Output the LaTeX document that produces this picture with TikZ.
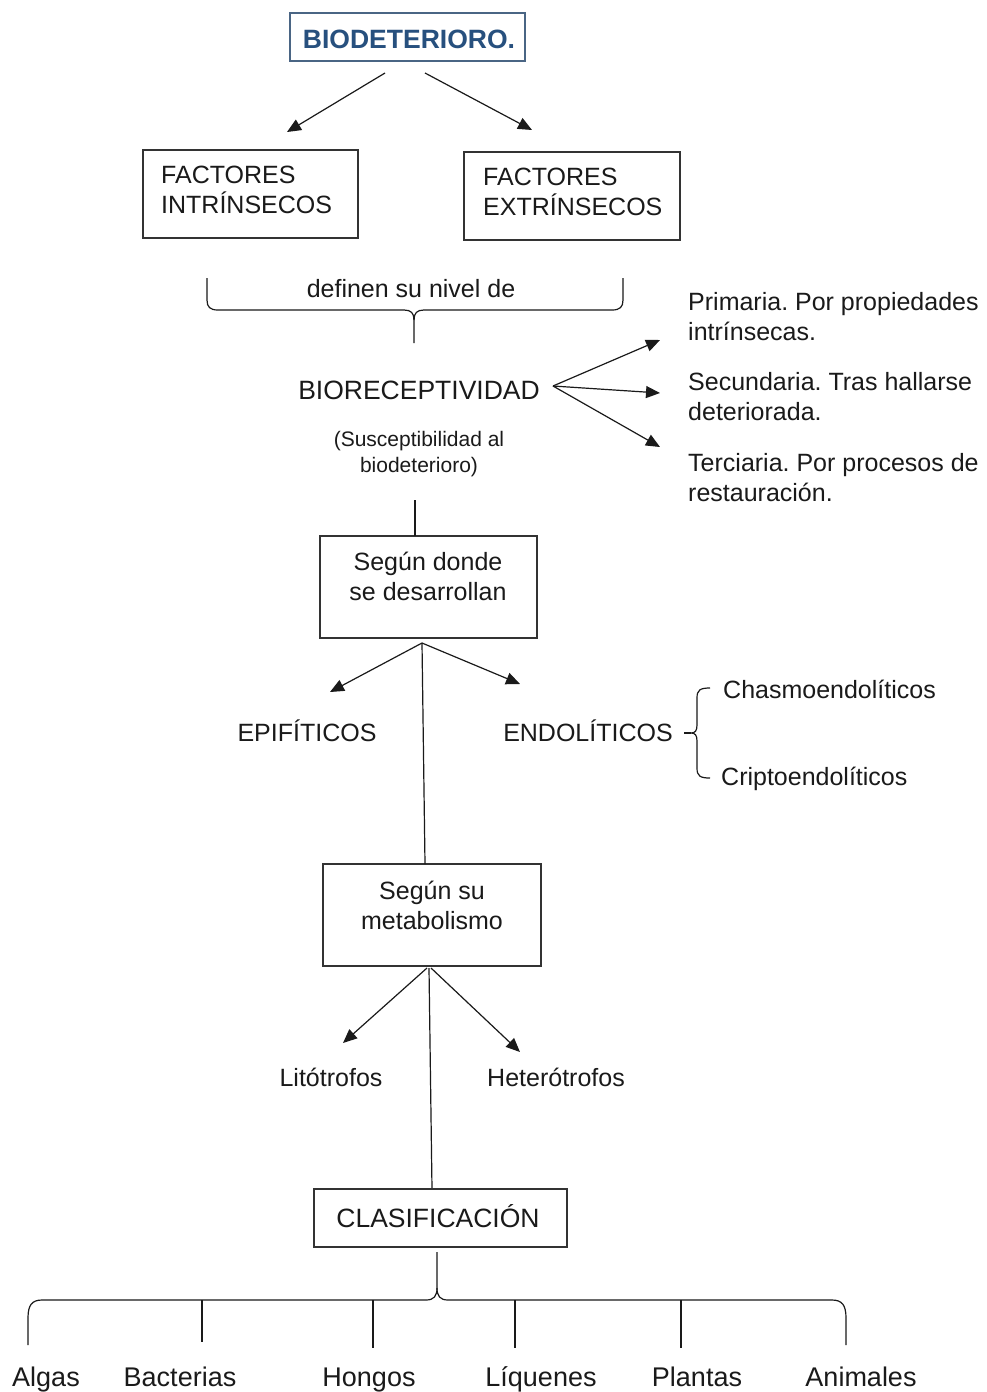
\documentclass[tikz,border=0pt]{standalone}
\usepackage{fontspec}
\setmainfont{Liberation Sans}
\frenchspacing
\usetikzlibrary{arrows.meta}
\definecolor{titleblue}{HTML}{27507E}
\definecolor{titleframe}{HTML}{4A6584}
\definecolor{framegray}{HTML}{333333}
\definecolor{inkgray}{HTML}{1A1A1A}
\begin{document}
\begin{tikzpicture}[x=1pt,y=-1pt,
  box/.style={draw=framegray, line width=1.5pt, inner sep=0pt},
  txt/.style={inner sep=0pt, text=inkgray, font=\fontsize{25}{30}\selectfont},
  big/.style={txt, font=\fontsize{26.5}{31}\selectfont},
  small/.style={txt, font=\fontsize{21}{26}\selectfont, align=center},
  bottom/.style={txt, font=\fontsize{27}{32}\selectfont, anchor=base},
  conn/.style={draw=inkgray, line width=1.2pt},
  arr/.style={conn, -{Triangle[length=14pt,width=12pt]}}
]
\useasboundingbox (0,0) rectangle (987,1392);
\fill[white] (0,0) rectangle (987,1392);

% ---------- top ----------
\node[draw=titleframe, line width=1.5pt, minimum width=235pt, minimum height=48pt, inner sep=0pt] (bio) at (407.5,37) {};
\node[big, font=\fontsize{26.5}{31}\selectfont\bfseries, text=titleblue] (biot) at (409,39) {BIODETERIORO.};

\node[box, minimum width=215pt, minimum height=88pt] (fi) at (250.5,194) {};
\node[txt, align=left, anchor=west] (fit) at (161,190) {FACTORES\\INTRÍNSECOS};
\node[box, minimum width=216pt, minimum height=88pt] (fe) at (572,196) {};
\node[txt, align=left, anchor=west] (fet) at (483,192) {FACTORES\\EXTRÍNSECOS};

\coordinate (a1s) at (385,73);  \coordinate (a1e) at (287,132);
\coordinate (a2s) at (425,73);  \coordinate (a2e) at (532,130);
\draw[arr] (a1s) -- (a1e);
\draw[arr] (a2s) -- (a2e);

% ---------- brace ----------
\node[txt] (def) at (411,289) {definen su nivel de};
\coordinate (bl) at (207,278); \coordinate (br) at (623,278); \coordinate (bt) at (414,343);
\draw[conn] (bl) -- (207,300) .. controls (207,307) and (210,310) .. (218,310) -- (404,310)
  .. controls (411,310) and (414,313) .. (414,320) -- (bt);
\draw[conn] (br) -- (623,300) .. controls (623,307) and (620,310) .. (612,310) -- (424,310)
  .. controls (417,310) and (414,313) .. (414,320);

% ---------- bioreceptividad ----------
\node[big] (brc) at (419,390) {BIORECEPTIVIDAD};
\node[small] (sus) at (419,454) {(Susceptibilidad al\\biodeterioro)};
\coordinate (fan) at (553,386);
\coordinate (p1) at (660,340); \coordinate (p2) at (660,393); \coordinate (p3) at (660,447);
\draw[arr] (fan) -- (p1);
\draw[arr] (fan) -- (p2);
\draw[arr] (fan) -- (p3);
\node[txt, align=left, anchor=west] (prim) at (688,317) {Primaria. Por propiedades\\intrínsecas.};
\node[txt, align=left, anchor=west] (sec) at (688,397) {Secundaria. Tras hallarse\\deteriorada.};
\node[txt, align=left, anchor=west] (ter) at (688,478) {Terciaria. Por procesos de\\restauración.};

% ---------- según donde ----------
\node[box, minimum width=217pt, minimum height=102pt] (sd) at (428.5,587) {};
\node[txt, align=center] (sdt) at (428,576) {Según donde\\se desarrollan};
\coordinate (l1s) at (415,500);
\draw[conn] (l1s) -- (415,536);

\coordinate (sdb) at (422,643);
\coordinate (ep) at (330,692); \coordinate (en) at (520,684);
\draw[arr] (sdb) -- (ep);
\draw[arr] (sdb) -- (en);
\node[txt] (epi) at (307,731) {EPIFÍTICOS};
\node[txt] (endo) at (588,731) {ENDOLÍTICOS};

\draw[conn] (684,733) -- (691,733);
\draw[conn] (710,688) .. controls (700,688) and (697,690) .. (697,698) -- (697,725)
  .. controls (697,731) and (695,733) .. (691,733)
  .. controls (695,733) and (697,735) .. (697,741) -- (697,768)
  .. controls (697,776) and (700,778) .. (710,778);
\node[txt, anchor=west] (chas) at (723,689) {Chasmoendolíticos};
\node[txt, anchor=west] (crip) at (721,779) {Criptoendolíticos};

% ---------- metabolismo ----------
\node[box, minimum width=218pt, minimum height=102pt] (met) at (432,915) {};
\node[txt, align=center] (mett) at (432,905) {Según su\\metabolismo};
\draw[conn] (sdb) -- (425,864);

\coordinate (mb1) at (427,968); \coordinate (mb2) at (431,968);
\coordinate (li) at (343,1043); \coordinate (he) at (520,1052);
\draw[arr] (mb1) -- (li);
\draw[arr] (mb2) -- (he);
\node[txt] (lit) at (331,1077) {Litótrofos};
\node[txt] (het) at (556,1077) {Heterótrofos};
\draw[conn] (429,968) -- (432,1189);

% ---------- clasificación ----------
\node[box, minimum width=253pt, minimum height=58pt] (cla) at (440.5,1218) {};
\node[big] (clat) at (438,1216) {CLASIFICACIÓN};

\coordinate (ct) at (437,1252);
\draw[conn] (ct) -- (437,1288) .. controls (437,1296) and (434,1300) .. (426,1300) -- (42,1300)
  .. controls (32,1300) and (28,1305) .. (28,1318) -- (28,1345);
\draw[conn] (437,1288) .. controls (437,1296) and (440,1300) .. (448,1300) -- (832,1300)
  .. controls (842,1300) and (846,1305) .. (846,1318) -- (846,1345);
\draw[conn] (202,1300) -- (202,1342);
\draw[conn] (373,1300) -- (373,1348);
\draw[conn] (515,1300) -- (515,1348);
\draw[conn] (681,1300) -- (681,1348);

\node[bottom] (alg) at (46,1386) {Algas};
\node[bottom] (bac) at (180,1386) {Bacterias};
\node[bottom] (hon) at (369,1386) {Hongos};
\node[bottom] (liq) at (541,1386) {Líquenes};
\node[bottom] (pla) at (697,1386) {Plantas};
\node[bottom] (ani) at (861,1386) {Animales};
\end{tikzpicture}
\end{document}
